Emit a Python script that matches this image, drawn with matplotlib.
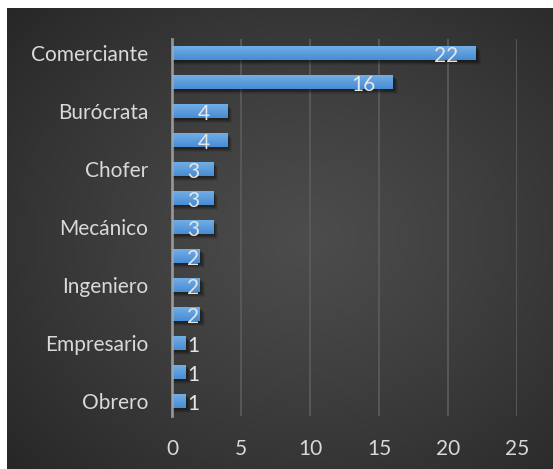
import numpy as np
import matplotlib
matplotlib.use("Agg")
import matplotlib.pyplot as plt
from matplotlib.patches import Rectangle

plt.rcParams['font.family'] = ['Lato', 'DejaVu Sans']

# Occupations (top to bottom); unlabeled rows are skipped by the axis labeling
categories = ["Comerciante", "", "Burócrata", "", "Chofer", "", "Mecánico",
              "", "Ingeniero", "", "Empresario", "", "Obrero"]
values = [22, 16, 4, 4, 3, 3, 3, 2, 2, 2, 1, 1, 1]
x_ticks = [0, 5, 10, 15, 20, 25]

W, H = 553, 469
FS = 15
fig = plt.figure(figsize=(W / 100, H / 100), dpi=100)
fig.patch.set_facecolor("white")

# Dark radial-gradient chart background
bg = fig.add_axes([7 / W, 0, (W - 7) / W, (H - 8) / H])
ny, nx = 300, 360
yy, xx = np.mgrid[0:1:ny * 1j, 0:1:nx * 1j]
r = np.sqrt((xx - 0.55) ** 2 + (yy - 0.5) ** 2) / np.sqrt(0.55 ** 2 + 0.5 ** 2)
r = np.clip(r, 0, 1)
inner, outer = 0x4c / 255, 0x27 / 255
shade = inner + (outer - inner) * r ** 1.2
bg.imshow(np.dstack([shade, shade, shade]), extent=[0, 1, 0, 1],
          aspect="auto", interpolation="bilinear")
bg.set_axis_off()
bg.set_zorder(0)

# Plot area
left, right = 172 / W, 517 / W
top, bottom = 1 - 38.5 / H, 1 - 415.5 / H
ax = fig.add_axes([left, bottom, right - left, top - bottom])
ax.set_zorder(1)
ax.patch.set_alpha(0)

ypos = np.arange(len(values))
bar_h = 0.48
bars = ax.barh(ypos, values, height=bar_h, color="#5b9bd5", zorder=3)

# Soft drop shadow plus vertical gradient fill for each bar
grad = np.linspace(0, 1, 50).reshape(-1, 1)
c_top = np.array([0x72, 0xae, 0xe6]) / 255
c_bot = np.array([0x47, 0x8c, 0xd4]) / 255
grad_img = c_top[None, None, :] * (1 - grad[..., None]) + c_bot[None, None, :] * grad[..., None]
px = 25 / (517 - 172)          # data units per pixel along x
py = 1 / 29.0                  # data units per pixel along y
for bar in bars:
    x0, w = bar.get_x(), bar.get_width()
    yc, h = bar.get_y() + bar.get_height() / 2, bar.get_height()
    for k, a in [(5, 0.08), (4, 0.12), (3, 0.15), (2, 0.18)]:
        ax.add_patch(Rectangle((x0 + 1 * px, yc - h / 2 + k * py), w + (k - 1) * px, h,
                               facecolor="black", alpha=a, edgecolor="none", zorder=2))
    ax.imshow(grad_img, extent=[x0, x0 + w, yc + h / 2, yc - h / 2],
              origin="upper", aspect="auto", zorder=3.5, interpolation="bilinear")

# Value labels near the inner end of each bar
for y, v in zip(ypos, values):
    txt = f"{v}"
    digit_w = 11 * px
    xr = max(v - 17 * px, 16 * px + digit_w * len(txt))
    ax.text(xr, y + 0.1, txt, ha="right", va="center", color="#e6e6e6",
            fontsize=FS, zorder=5)

ax.set_xlim(0, 25)
ax.set_ylim(len(values) - 0.5, -0.5)
ax.set_xticks(x_ticks)
ax.set_xticklabels([str(t) for t in x_ticks])
ax.set_yticks(ypos)
ax.set_yticklabels(categories)
ax.tick_params(axis="both", length=0, colors="#d9d9d9", labelsize=FS)
ax.tick_params(axis="x", pad=17)
ax.tick_params(axis="y", pad=17)
ax.grid(axis="x", color="#5a5a5a", linewidth=1.3, zorder=1)
ax.grid(axis="y", visible=False)
for s in ["top", "right", "bottom"]:
    ax.spines[s].set_visible(False)
ax.spines["left"].set_color("#a8a8a8")
ax.spines["left"].set_linewidth(2)
ax.spines["left"].set_alpha(0.8)
ax.spines["left"].set_zorder(6)

fig.savefig("out.png", dpi=100)
